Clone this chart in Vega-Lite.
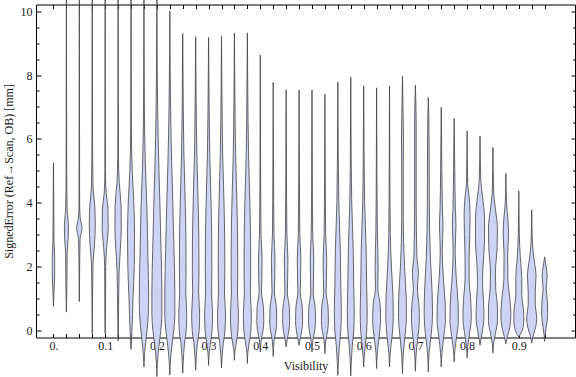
{
  "$schema": "https://vega.github.io/schema/vega-lite/v6.json",
  "width": 539,
  "height": 333,
  "autosize": "none",
  "padding": {"left": 36, "top": 4.5, "right": 1, "bottom": 39.5},
  "background": "white",
  "config": {
    "view": {"stroke": null},
    "axis": {
      "domainColor": "black",
      "domainWidth": 1,
      "tickColor": "black",
      "tickWidth": 1,
      "grid": false,
      "labelFont": "Liberation Serif",
      "labelFontSize": 12,
      "labelColor": "#1a1a1a",
      "titleFont": "Liberation Serif",
      "titleFontSize": 12,
      "titleFontWeight": "normal",
      "titleColor": "#1a1a1a"
    }
  },
  "data": {
    "values": [
      {"v":0,"y":5.25,"lo":0,"hi":0},{"v":0,"y":4,"lo":-0.0006,"hi":0.0006},{"v":0,"y":2.8,"lo":-0.001,"hi":0.001},{"v":0,"y":2.3,"lo":-0.0023,"hi":0.0023},{"v":0,"y":1.7,"lo":-0.0023,"hi":0.0023},{"v":0,"y":1.2,"lo":-0.001,"hi":0.001},{"v":0,"y":0.75,"lo":0,"hi":0},
      {"v":0.025,"y":10.5,"lo":0.025,"hi":0.025},{"v":0.025,"y":5,"lo":0.0244,"hi":0.0256},{"v":0.025,"y":3.8,"lo":0.0236,"hi":0.0264},{"v":0.025,"y":3.3,"lo":0.0211,"hi":0.0289},{"v":0.025,"y":2.9,"lo":0.0215,"hi":0.0285},{"v":0.025,"y":2.4,"lo":0.0235,"hi":0.0265},{"v":0.025,"y":1.5,"lo":0.024,"hi":0.026},{"v":0.025,"y":0.57,"lo":0.025,"hi":0.025},
      {"v":0.05,"y":10.5,"lo":0.05,"hi":0.05},{"v":0.05,"y":4,"lo":0.0494,"hi":0.0506},{"v":0.05,"y":3.55,"lo":0.0485,"hi":0.0515},{"v":0.05,"y":3.2,"lo":0.0448,"hi":0.0552},{"v":0.05,"y":2.85,"lo":0.0485,"hi":0.0515},{"v":0.05,"y":2.3,"lo":0.0492,"hi":0.0508},{"v":0.05,"y":0.9,"lo":0.05,"hi":0.05},
      {"v":0.075,"y":10.5,"lo":0.075,"hi":0.075},{"v":0.075,"y":6,"lo":0.0744,"hi":0.0756},{"v":0.075,"y":4.5,"lo":0.0735,"hi":0.0765},{"v":0.075,"y":3.9,"lo":0.0702,"hi":0.0798},{"v":0.075,"y":3.3,"lo":0.0692,"hi":0.0808},{"v":0.075,"y":2.7,"lo":0.0706,"hi":0.0794},{"v":0.075,"y":2.1,"lo":0.0735,"hi":0.0765},{"v":0.075,"y":1,"lo":0.0744,"hi":0.0756},{"v":0.075,"y":-0.1,"lo":0.075,"hi":0.075},
      {"v":0.1,"y":10.5,"lo":0.1,"hi":0.1},{"v":0.1,"y":5,"lo":0.0994,"hi":0.1006},{"v":0.1,"y":4.3,"lo":0.0981,"hi":0.1019},{"v":0.1,"y":3.8,"lo":0.0946,"hi":0.1054},{"v":0.1,"y":3.2,"lo":0.0942,"hi":0.1058},{"v":0.1,"y":2.6,"lo":0.0971,"hi":0.1029},{"v":0.1,"y":2,"lo":0.099,"hi":0.101},{"v":0.1,"y":0.5,"lo":0.0994,"hi":0.1006},{"v":0.1,"y":-0.1,"lo":0.1,"hi":0.1},
      {"v":0.125,"y":10.5,"lo":0.125,"hi":0.125},{"v":0.125,"y":5.5,"lo":0.1244,"hi":0.1256},{"v":0.125,"y":4.6,"lo":0.1227,"hi":0.1273},{"v":0.125,"y":3.9,"lo":0.1192,"hi":0.1308},{"v":0.125,"y":3.2,"lo":0.1188,"hi":0.1312},{"v":0.125,"y":2.5,"lo":0.1208,"hi":0.1292},{"v":0.125,"y":1.8,"lo":0.1231,"hi":0.1269},{"v":0.125,"y":0.8,"lo":0.124,"hi":0.126},{"v":0.125,"y":-0.33,"lo":0.125,"hi":0.125},
      {"v":0.15,"y":10.5,"lo":0.15,"hi":0.15},{"v":0.15,"y":6.5,"lo":0.1494,"hi":0.1506},{"v":0.15,"y":5,"lo":0.1477,"hi":0.1523},{"v":0.15,"y":4,"lo":0.1446,"hi":0.1554},{"v":0.15,"y":3,"lo":0.1432,"hi":0.1568},{"v":0.15,"y":2,"lo":0.1438,"hi":0.1562},{"v":0.15,"y":1,"lo":0.1461,"hi":0.1539},{"v":0.15,"y":0,"lo":0.1481,"hi":0.1519},{"v":0.15,"y":-0.6,"lo":0.15,"hi":0.15},
      {"v":0.175,"y":10.5,"lo":0.175,"hi":0.175},{"v":0.175,"y":7,"lo":0.1742,"hi":0.1758},{"v":0.175,"y":5.3,"lo":0.1725,"hi":0.1775},{"v":0.175,"y":3.8,"lo":0.1692,"hi":0.1808},{"v":0.175,"y":2.3,"lo":0.1673,"hi":0.1827},{"v":0.175,"y":1,"lo":0.1659,"hi":0.1841},{"v":0.175,"y":0.3,"lo":0.1673,"hi":0.1827},{"v":0.175,"y":-0.3,"lo":0.1711,"hi":0.1789},{"v":0.175,"y":-0.8,"lo":0.174,"hi":0.176},{"v":0.175,"y":-1.15,"lo":0.175,"hi":0.175},
      {"v":0.2,"y":10.5,"lo":0.2,"hi":0.2},{"v":0.2,"y":8,"lo":0.1992,"hi":0.2008},{"v":0.2,"y":6,"lo":0.1975,"hi":0.2025},{"v":0.2,"y":4,"lo":0.1942,"hi":0.2058},{"v":0.2,"y":2.5,"lo":0.1919,"hi":0.2081},{"v":0.2,"y":1.2,"lo":0.1903,"hi":0.2097},{"v":0.2,"y":0.5,"lo":0.1903,"hi":0.2097},{"v":0.2,"y":0,"lo":0.1923,"hi":0.2077},{"v":0.2,"y":-0.5,"lo":0.1961,"hi":0.2039},{"v":0.2,"y":-1,"lo":0.199,"hi":0.201},{"v":0.2,"y":-1.45,"lo":0.2,"hi":0.2},
      {"v":0.225,"y":10,"lo":0.225,"hi":0.225},{"v":0.225,"y":8,"lo":0.2242,"hi":0.2258},{"v":0.225,"y":6,"lo":0.2225,"hi":0.2275},{"v":0.225,"y":4,"lo":0.2192,"hi":0.2308},{"v":0.225,"y":2.5,"lo":0.2169,"hi":0.2331},{"v":0.225,"y":1.2,"lo":0.2153,"hi":0.2347},{"v":0.225,"y":0.5,"lo":0.2153,"hi":0.2347},{"v":0.225,"y":0,"lo":0.2173,"hi":0.2327},{"v":0.225,"y":-0.5,"lo":0.2211,"hi":0.2289},{"v":0.225,"y":-1,"lo":0.224,"hi":0.226},{"v":0.225,"y":-1.4,"lo":0.225,"hi":0.225},
      {"v":0.25,"y":9.3,"lo":0.25,"hi":0.25},{"v":0.25,"y":7.5,"lo":0.2492,"hi":0.2508},{"v":0.25,"y":5.5,"lo":0.2477,"hi":0.2523},{"v":0.25,"y":4,"lo":0.2452,"hi":0.2548},{"v":0.25,"y":2.8,"lo":0.2438,"hi":0.2562},{"v":0.25,"y":1.8,"lo":0.2436,"hi":0.2564},{"v":0.25,"y":1.2,"lo":0.2442,"hi":0.2558},{"v":0.25,"y":0.5,"lo":0.2423,"hi":0.2577},{"v":0.25,"y":0,"lo":0.2432,"hi":0.2568},{"v":0.25,"y":-0.4,"lo":0.2465,"hi":0.2535},{"v":0.25,"y":-0.99,"lo":0.249,"hi":0.251},{"v":0.25,"y":-1.34,"lo":0.25,"hi":0.25},
      {"v":0.275,"y":9.2,"lo":0.275,"hi":0.275},{"v":0.275,"y":7.5,"lo":0.2742,"hi":0.2758},{"v":0.275,"y":5.5,"lo":0.2727,"hi":0.2773},{"v":0.275,"y":4,"lo":0.2702,"hi":0.2798},{"v":0.275,"y":2.8,"lo":0.2688,"hi":0.2812},{"v":0.275,"y":1.8,"lo":0.2686,"hi":0.2814},{"v":0.275,"y":1.2,"lo":0.2692,"hi":0.2808},{"v":0.275,"y":0.5,"lo":0.2673,"hi":0.2827},{"v":0.275,"y":0,"lo":0.2682,"hi":0.2818},{"v":0.275,"y":-0.4,"lo":0.2715,"hi":0.2785},{"v":0.275,"y":-0.9,"lo":0.274,"hi":0.276},{"v":0.275,"y":-1.25,"lo":0.275,"hi":0.275},
      {"v":0.3,"y":9.18,"lo":0.3,"hi":0.3},{"v":0.3,"y":7.5,"lo":0.2992,"hi":0.3008},{"v":0.3,"y":5.5,"lo":0.2977,"hi":0.3023},{"v":0.3,"y":4,"lo":0.2952,"hi":0.3048},{"v":0.3,"y":2.8,"lo":0.2938,"hi":0.3062},{"v":0.3,"y":1.8,"lo":0.2936,"hi":0.3064},{"v":0.3,"y":1.2,"lo":0.2942,"hi":0.3058},{"v":0.3,"y":0.5,"lo":0.2923,"hi":0.3077},{"v":0.3,"y":0,"lo":0.2932,"hi":0.3068},{"v":0.3,"y":-0.4,"lo":0.2965,"hi":0.3035},{"v":0.3,"y":-0.75,"lo":0.299,"hi":0.301},{"v":0.3,"y":-1.1,"lo":0.3,"hi":0.3},
      {"v":0.325,"y":9.22,"lo":0.325,"hi":0.325},{"v":0.325,"y":7.5,"lo":0.3242,"hi":0.3258},{"v":0.325,"y":5.5,"lo":0.3227,"hi":0.3273},{"v":0.325,"y":4,"lo":0.3202,"hi":0.3298},{"v":0.325,"y":2.8,"lo":0.3188,"hi":0.3312},{"v":0.325,"y":1.8,"lo":0.3186,"hi":0.3314},{"v":0.325,"y":1.2,"lo":0.3192,"hi":0.3308},{"v":0.325,"y":0.5,"lo":0.3173,"hi":0.3327},{"v":0.325,"y":0,"lo":0.3182,"hi":0.3318},{"v":0.325,"y":-0.4,"lo":0.3215,"hi":0.3285},{"v":0.325,"y":-0.83,"lo":0.324,"hi":0.326},{"v":0.325,"y":-1.18,"lo":0.325,"hi":0.325},
      {"v":0.35,"y":9.32,"lo":0.35,"hi":0.35},{"v":0.35,"y":7.5,"lo":0.3492,"hi":0.3508},{"v":0.35,"y":5.5,"lo":0.3477,"hi":0.3523},{"v":0.35,"y":4,"lo":0.3452,"hi":0.3548},{"v":0.35,"y":2.8,"lo":0.3438,"hi":0.3562},{"v":0.35,"y":1.8,"lo":0.3436,"hi":0.3564},{"v":0.35,"y":1.2,"lo":0.3442,"hi":0.3558},{"v":0.35,"y":0.5,"lo":0.3423,"hi":0.3577},{"v":0.35,"y":0,"lo":0.3432,"hi":0.3568},{"v":0.35,"y":-0.4,"lo":0.3465,"hi":0.3535},{"v":0.35,"y":-0.65,"lo":0.349,"hi":0.351},{"v":0.35,"y":-0.94,"lo":0.35,"hi":0.35},
      {"v":0.375,"y":9.32,"lo":0.375,"hi":0.375},{"v":0.375,"y":7.5,"lo":0.3742,"hi":0.3758},{"v":0.375,"y":5.5,"lo":0.3727,"hi":0.3773},{"v":0.375,"y":4,"lo":0.3702,"hi":0.3798},{"v":0.375,"y":2.8,"lo":0.3688,"hi":0.3812},{"v":0.375,"y":1.8,"lo":0.3686,"hi":0.3814},{"v":0.375,"y":1.2,"lo":0.3692,"hi":0.3808},{"v":0.375,"y":0.5,"lo":0.3673,"hi":0.3827},{"v":0.375,"y":0,"lo":0.3682,"hi":0.3818},{"v":0.375,"y":-0.4,"lo":0.3715,"hi":0.3785},{"v":0.375,"y":-0.69,"lo":0.374,"hi":0.376},{"v":0.375,"y":-1.04,"lo":0.375,"hi":0.375},
      {"v":0.4,"y":8.63,"lo":0.4,"hi":0.4},{"v":0.4,"y":5,"lo":0.3994,"hi":0.4006},{"v":0.4,"y":3,"lo":0.3985,"hi":0.4015},{"v":0.4,"y":2.2,"lo":0.3965,"hi":0.4035},{"v":0.4,"y":1.6,"lo":0.3971,"hi":0.4029},{"v":0.4,"y":1.2,"lo":0.3977,"hi":0.4023},{"v":0.4,"y":0.7,"lo":0.3938,"hi":0.4062},{"v":0.4,"y":0.3,"lo":0.3932,"hi":0.4068},{"v":0.4,"y":0,"lo":0.3946,"hi":0.4054},{"v":0.4,"y":-0.3,"lo":0.3981,"hi":0.4019},{"v":0.4,"y":-0.68,"lo":0.4,"hi":0.4},
      {"v":0.425,"y":7.77,"lo":0.425,"hi":0.425},{"v":0.425,"y":5,"lo":0.4244,"hi":0.4256},{"v":0.425,"y":3,"lo":0.4235,"hi":0.4265},{"v":0.425,"y":2.2,"lo":0.4215,"hi":0.4285},{"v":0.425,"y":1.6,"lo":0.4221,"hi":0.4279},{"v":0.425,"y":1.2,"lo":0.4227,"hi":0.4273},{"v":0.425,"y":0.7,"lo":0.4188,"hi":0.4312},{"v":0.425,"y":0.3,"lo":0.4182,"hi":0.4318},{"v":0.425,"y":0,"lo":0.4196,"hi":0.4304},{"v":0.425,"y":-0.3,"lo":0.4231,"hi":0.4269},{"v":0.425,"y":-0.82,"lo":0.425,"hi":0.425},
      {"v":0.45,"y":7.53,"lo":0.45,"hi":0.45},{"v":0.45,"y":5,"lo":0.4494,"hi":0.4506},{"v":0.45,"y":3,"lo":0.4485,"hi":0.4515},{"v":0.45,"y":2.2,"lo":0.4465,"hi":0.4535},{"v":0.45,"y":1.6,"lo":0.4471,"hi":0.4529},{"v":0.45,"y":1.2,"lo":0.4477,"hi":0.4523},{"v":0.45,"y":0.7,"lo":0.4438,"hi":0.4562},{"v":0.45,"y":0.3,"lo":0.4432,"hi":0.4568},{"v":0.45,"y":0,"lo":0.4446,"hi":0.4554},{"v":0.45,"y":-0.3,"lo":0.4481,"hi":0.4519},{"v":0.45,"y":-0.52,"lo":0.45,"hi":0.45},
      {"v":0.475,"y":7.53,"lo":0.475,"hi":0.475},{"v":0.475,"y":5,"lo":0.4744,"hi":0.4756},{"v":0.475,"y":3,"lo":0.4735,"hi":0.4765},{"v":0.475,"y":2.2,"lo":0.4715,"hi":0.4785},{"v":0.475,"y":1.6,"lo":0.4721,"hi":0.4779},{"v":0.475,"y":1.2,"lo":0.4727,"hi":0.4773},{"v":0.475,"y":0.7,"lo":0.4688,"hi":0.4812},{"v":0.475,"y":0.3,"lo":0.4682,"hi":0.4818},{"v":0.475,"y":0,"lo":0.4696,"hi":0.4804},{"v":0.475,"y":-0.3,"lo":0.4731,"hi":0.4769},{"v":0.475,"y":-0.47,"lo":0.475,"hi":0.475},
      {"v":0.5,"y":7.53,"lo":0.5,"hi":0.5},{"v":0.5,"y":5,"lo":0.4994,"hi":0.5006},{"v":0.5,"y":3,"lo":0.4985,"hi":0.5015},{"v":0.5,"y":2.2,"lo":0.4965,"hi":0.5035},{"v":0.5,"y":1.6,"lo":0.4971,"hi":0.5029},{"v":0.5,"y":1.2,"lo":0.4977,"hi":0.5023},{"v":0.5,"y":0.7,"lo":0.4938,"hi":0.5062},{"v":0.5,"y":0.3,"lo":0.4932,"hi":0.5068},{"v":0.5,"y":0,"lo":0.4946,"hi":0.5054},{"v":0.5,"y":-0.3,"lo":0.4981,"hi":0.5019},{"v":0.5,"y":-0.68,"lo":0.5,"hi":0.5},
      {"v":0.525,"y":7.4,"lo":0.525,"hi":0.525},{"v":0.525,"y":5,"lo":0.5244,"hi":0.5256},{"v":0.525,"y":3,"lo":0.5235,"hi":0.5265},{"v":0.525,"y":2.2,"lo":0.5215,"hi":0.5285},{"v":0.525,"y":1.6,"lo":0.5221,"hi":0.5279},{"v":0.525,"y":1.2,"lo":0.5227,"hi":0.5273},{"v":0.525,"y":0.7,"lo":0.5188,"hi":0.5312},{"v":0.525,"y":0.3,"lo":0.5182,"hi":0.5318},{"v":0.525,"y":0,"lo":0.5196,"hi":0.5304},{"v":0.525,"y":-0.3,"lo":0.5231,"hi":0.5269},{"v":0.525,"y":-0.73,"lo":0.525,"hi":0.525},
      {"v":0.55,"y":7.78,"lo":0.55,"hi":0.55},{"v":0.55,"y":6,"lo":0.5494,"hi":0.5506},{"v":0.55,"y":4,"lo":0.5481,"hi":0.5519},{"v":0.55,"y":2.5,"lo":0.5452,"hi":0.5548},{"v":0.55,"y":1.3,"lo":0.5442,"hi":0.5558},{"v":0.55,"y":0.6,"lo":0.5432,"hi":0.5568},{"v":0.55,"y":0,"lo":0.5442,"hi":0.5558},{"v":0.55,"y":-0.5,"lo":0.5471,"hi":0.5529},{"v":0.55,"y":-1,"lo":0.549,"hi":0.551},{"v":0.55,"y":-1.41,"lo":0.55,"hi":0.55},
      {"v":0.575,"y":7.93,"lo":0.575,"hi":0.575},{"v":0.575,"y":6,"lo":0.5744,"hi":0.5756},{"v":0.575,"y":4,"lo":0.5731,"hi":0.5769},{"v":0.575,"y":2.5,"lo":0.5702,"hi":0.5798},{"v":0.575,"y":1.3,"lo":0.5692,"hi":0.5808},{"v":0.575,"y":0.6,"lo":0.5682,"hi":0.5818},{"v":0.575,"y":0,"lo":0.5692,"hi":0.5808},{"v":0.575,"y":-0.5,"lo":0.5721,"hi":0.5779},{"v":0.575,"y":-1,"lo":0.574,"hi":0.576},{"v":0.575,"y":-1.43,"lo":0.575,"hi":0.575},
      {"v":0.6,"y":7.66,"lo":0.6,"hi":0.6},{"v":0.6,"y":6,"lo":0.5994,"hi":0.6006},{"v":0.6,"y":4,"lo":0.5981,"hi":0.6019},{"v":0.6,"y":2.5,"lo":0.5952,"hi":0.6048},{"v":0.6,"y":1.3,"lo":0.5942,"hi":0.6058},{"v":0.6,"y":0.6,"lo":0.5932,"hi":0.6068},{"v":0.6,"y":0,"lo":0.5942,"hi":0.6058},{"v":0.6,"y":-0.5,"lo":0.5971,"hi":0.6029},{"v":0.6,"y":-0.85,"lo":0.599,"hi":0.601},{"v":0.6,"y":-1.15,"lo":0.6,"hi":0.6},
      {"v":0.625,"y":7.6,"lo":0.625,"hi":0.625},{"v":0.625,"y":5,"lo":0.6244,"hi":0.6256},{"v":0.625,"y":3,"lo":0.6235,"hi":0.6265},{"v":0.625,"y":2,"lo":0.6221,"hi":0.6279},{"v":0.625,"y":1.3,"lo":0.6227,"hi":0.6273},{"v":0.625,"y":0.8,"lo":0.6182,"hi":0.6318},{"v":0.625,"y":0.3,"lo":0.6173,"hi":0.6327},{"v":0.625,"y":-0.2,"lo":0.6202,"hi":0.6298},{"v":0.625,"y":-0.7,"lo":0.6236,"hi":0.6264},{"v":0.625,"y":-1.2,"lo":0.625,"hi":0.625},
      {"v":0.65,"y":7.66,"lo":0.65,"hi":0.65},{"v":0.65,"y":5,"lo":0.6494,"hi":0.6506},{"v":0.65,"y":3,"lo":0.6485,"hi":0.6515},{"v":0.65,"y":1.9,"lo":0.6461,"hi":0.6539},{"v":0.65,"y":1,"lo":0.6432,"hi":0.6568},{"v":0.65,"y":0.4,"lo":0.6427,"hi":0.6573},{"v":0.65,"y":-0.2,"lo":0.6452,"hi":0.6548},{"v":0.65,"y":-0.7,"lo":0.6486,"hi":0.6514},{"v":0.65,"y":-1.15,"lo":0.65,"hi":0.65},
      {"v":0.675,"y":7.97,"lo":0.675,"hi":0.675},{"v":0.675,"y":7,"lo":0.674,"hi":0.676},{"v":0.675,"y":6,"lo":0.6731,"hi":0.6769},{"v":0.675,"y":5,"lo":0.6735,"hi":0.6765},{"v":0.675,"y":3.5,"lo":0.6735,"hi":0.6765},{"v":0.675,"y":2,"lo":0.6711,"hi":0.6789},{"v":0.675,"y":1,"lo":0.6677,"hi":0.6823},{"v":0.675,"y":0.4,"lo":0.6673,"hi":0.6827},{"v":0.675,"y":-0.2,"lo":0.6702,"hi":0.6798},{"v":0.675,"y":-0.8,"lo":0.6736,"hi":0.6764},{"v":0.675,"y":-1.36,"lo":0.675,"hi":0.675},
      {"v":0.7,"y":7.68,"lo":0.7,"hi":0.7},{"v":0.7,"y":6.5,"lo":0.6985,"hi":0.7015},{"v":0.7,"y":4,"lo":0.6985,"hi":0.7015},{"v":0.7,"y":2.3,"lo":0.6971,"hi":0.7029},{"v":0.7,"y":1.8,"lo":0.6942,"hi":0.7058},{"v":0.7,"y":1.3,"lo":0.6961,"hi":0.7039},{"v":0.7,"y":0.8,"lo":0.6932,"hi":0.7068},{"v":0.7,"y":0.3,"lo":0.6923,"hi":0.7077},{"v":0.7,"y":-0.2,"lo":0.6952,"hi":0.7048},{"v":0.7,"y":-0.8,"lo":0.6988,"hi":0.7012},{"v":0.7,"y":-1.28,"lo":0.7,"hi":0.7},
      {"v":0.725,"y":7.3,"lo":0.725,"hi":0.725},{"v":0.725,"y":6,"lo":0.7235,"hi":0.7265},{"v":0.725,"y":4,"lo":0.7231,"hi":0.7269},{"v":0.725,"y":2.3,"lo":0.7211,"hi":0.7289},{"v":0.725,"y":1.2,"lo":0.7177,"hi":0.7323},{"v":0.725,"y":0.5,"lo":0.7169,"hi":0.7331},{"v":0.725,"y":-0.1,"lo":0.7192,"hi":0.7308},{"v":0.725,"y":-0.7,"lo":0.7235,"hi":0.7265},{"v":0.725,"y":-1.31,"lo":0.725,"hi":0.725},
      {"v":0.75,"y":6.99,"lo":0.75,"hi":0.75},{"v":0.75,"y":5,"lo":0.7488,"hi":0.7512},{"v":0.75,"y":3.8,"lo":0.7477,"hi":0.7523},{"v":0.75,"y":3.3,"lo":0.7465,"hi":0.7535},{"v":0.75,"y":2.5,"lo":0.7481,"hi":0.7519},{"v":0.75,"y":1.6,"lo":0.7458,"hi":0.7542},{"v":0.75,"y":0.8,"lo":0.7423,"hi":0.7577},{"v":0.75,"y":0.3,"lo":0.7419,"hi":0.7581},{"v":0.75,"y":-0.2,"lo":0.7452,"hi":0.7548},{"v":0.75,"y":-0.7,"lo":0.7486,"hi":0.7514},{"v":0.75,"y":-1.15,"lo":0.75,"hi":0.75},
      {"v":0.775,"y":6.64,"lo":0.775,"hi":0.775},{"v":0.775,"y":5,"lo":0.7738,"hi":0.7762},{"v":0.775,"y":3.8,"lo":0.7727,"hi":0.7773},{"v":0.775,"y":3.3,"lo":0.7715,"hi":0.7785},{"v":0.775,"y":2.5,"lo":0.7731,"hi":0.7769},{"v":0.775,"y":1.6,"lo":0.7708,"hi":0.7792},{"v":0.775,"y":0.8,"lo":0.7673,"hi":0.7827},{"v":0.775,"y":0.3,"lo":0.7669,"hi":0.7831},{"v":0.775,"y":-0.2,"lo":0.7702,"hi":0.7798},{"v":0.775,"y":-0.6,"lo":0.7736,"hi":0.7764},{"v":0.775,"y":-0.99,"lo":0.775,"hi":0.775},
      {"v":0.8,"y":6.25,"lo":0.8,"hi":0.8},{"v":0.8,"y":4.6,"lo":0.7988,"hi":0.8012},{"v":0.8,"y":4.2,"lo":0.7961,"hi":0.8039},{"v":0.8,"y":3.6,"lo":0.7942,"hi":0.8058},{"v":0.8,"y":3,"lo":0.7948,"hi":0.8052},{"v":0.8,"y":2.2,"lo":0.7961,"hi":0.8039},{"v":0.8,"y":1.6,"lo":0.7961,"hi":0.8039},{"v":0.8,"y":1,"lo":0.7932,"hi":0.8068},{"v":0.8,"y":0.4,"lo":0.7919,"hi":0.8081},{"v":0.8,"y":-0.1,"lo":0.7952,"hi":0.8048},{"v":0.8,"y":-0.5,"lo":0.7988,"hi":0.8012},{"v":0.8,"y":-0.86,"lo":0.8,"hi":0.8},
      {"v":0.825,"y":6.09,"lo":0.825,"hi":0.825},{"v":0.825,"y":4.7,"lo":0.8235,"hi":0.8265},{"v":0.825,"y":4.2,"lo":0.8202,"hi":0.8298},{"v":0.825,"y":3.5,"lo":0.8163,"hi":0.8337},{"v":0.825,"y":2.8,"lo":0.8163,"hi":0.8337},{"v":0.825,"y":2,"lo":0.8192,"hi":0.8308},{"v":0.825,"y":1.5,"lo":0.8202,"hi":0.8298},{"v":0.825,"y":0.9,"lo":0.8182,"hi":0.8318},{"v":0.825,"y":0.4,"lo":0.8173,"hi":0.8327},{"v":0.825,"y":0,"lo":0.8202,"hi":0.8298},{"v":0.825,"y":-0.3,"lo":0.8235,"hi":0.8265},{"v":0.825,"y":-0.47,"lo":0.825,"hi":0.825},
      {"v":0.85,"y":5.73,"lo":0.85,"hi":0.85},{"v":0.85,"y":4.3,"lo":0.8485,"hi":0.8515},{"v":0.85,"y":3.8,"lo":0.8452,"hi":0.8548},{"v":0.85,"y":3.2,"lo":0.8413,"hi":0.8587},{"v":0.85,"y":2.6,"lo":0.8419,"hi":0.8581},{"v":0.85,"y":1.8,"lo":0.8452,"hi":0.8548},{"v":0.85,"y":1.3,"lo":0.8446,"hi":0.8554},{"v":0.85,"y":0.7,"lo":0.8413,"hi":0.8587},{"v":0.85,"y":0.3,"lo":0.8413,"hi":0.8587},{"v":0.85,"y":-0.1,"lo":0.8452,"hi":0.8548},{"v":0.85,"y":-0.4,"lo":0.8485,"hi":0.8515},{"v":0.85,"y":-0.71,"lo":0.85,"hi":0.85},
      {"v":0.875,"y":4.92,"lo":0.875,"hi":0.875},{"v":0.875,"y":4,"lo":0.8738,"hi":0.8762},{"v":0.875,"y":3.5,"lo":0.8711,"hi":0.8789},{"v":0.875,"y":3,"lo":0.8698,"hi":0.8802},{"v":0.875,"y":2.4,"lo":0.8715,"hi":0.8785},{"v":0.875,"y":1.6,"lo":0.8711,"hi":0.8789},{"v":0.875,"y":1,"lo":0.8673,"hi":0.8827},{"v":0.875,"y":0.5,"lo":0.8653,"hi":0.8847},{"v":0.875,"y":0.1,"lo":0.8673,"hi":0.8827},{"v":0.875,"y":-0.2,"lo":0.8721,"hi":0.8779},{"v":0.875,"y":-0.42,"lo":0.875,"hi":0.875},
      {"v":0.9,"y":4.37,"lo":0.9,"hi":0.9},{"v":0.9,"y":3,"lo":0.899,"hi":0.901},{"v":0.9,"y":2.3,"lo":0.8971,"hi":0.9029},{"v":0.9,"y":1.6,"lo":0.8942,"hi":0.9058},{"v":0.9,"y":1.1,"lo":0.8942,"hi":0.9058},{"v":0.9,"y":0.7,"lo":0.8913,"hi":0.9087},{"v":0.9,"y":0.3,"lo":0.8903,"hi":0.9097},{"v":0.9,"y":0,"lo":0.8932,"hi":0.9068},{"v":0.9,"y":-0.21,"lo":0.9,"hi":0.9},
      {"v":0.925,"y":3.77,"lo":0.925,"hi":0.925},{"v":0.925,"y":2.7,"lo":0.9236,"hi":0.9264},{"v":0.925,"y":2.2,"lo":0.9202,"hi":0.9298},{"v":0.925,"y":1.7,"lo":0.9167,"hi":0.9333},{"v":0.925,"y":1.2,"lo":0.9182,"hi":0.9318},{"v":0.925,"y":0.8,"lo":0.9182,"hi":0.9318},{"v":0.925,"y":0.4,"lo":0.9153,"hi":0.9347},{"v":0.925,"y":0.1,"lo":0.9173,"hi":0.9327},{"v":0.925,"y":-0.2,"lo":0.9227,"hi":0.9273},{"v":0.925,"y":-0.4,"lo":0.925,"hi":0.925},
      {"v":0.95,"y":2.3,"lo":0.95,"hi":0.95},{"v":0.95,"y":2,"lo":0.9471,"hi":0.9529},{"v":0.95,"y":1.7,"lo":0.9452,"hi":0.9548},{"v":0.95,"y":1.3,"lo":0.9471,"hi":0.9529},{"v":0.95,"y":0.9,"lo":0.9446,"hi":0.9554},{"v":0.95,"y":0.5,"lo":0.9442,"hi":0.9558},{"v":0.95,"y":0.2,"lo":0.9461,"hi":0.9539},{"v":0.95,"y":-0.1,"lo":0.9486,"hi":0.9514},{"v":0.95,"y":-0.34,"lo":0.95,"hi":0.95}
    ]
  },
  "layer": [
    {
      "mark": {"type": "area", "orient": "horizontal", "interpolate": "monotone", "clip": false, "fill": "#cdd3f5", "fillOpacity": 1, "stroke": "#444444", "strokeOpacity": 0.8, "strokeWidth": 1},
      "encoding": {
        "detail": {"field": "v", "type": "nominal"},
        "y": {"field": "y", "type": "quantitative", "scale": {"domain": [-0.226, 10.21], "nice": false, "zero": false},
          "axis": {"orient": "left", "values": [0,0.5,1,1.5,2,2.5,3,3.5,4,4.5,5,5.5,6,6.5,7,7.5,8,8.5,9,9.5,10],
            "labelExpr": "datum.value % 2 == 0 ? format(datum.value, 'd') : ''",
            "tickSize": {"condition": {"test": "datum.value % 2 == 0", "value": -5}, "value": -3},
            "labelPadding": 9, "title": "SignedError (Ref\u2192Scan, OB) [mm]", "titlePadding": 5}},
        "x": {"field": "lo", "type": "quantitative", "scale": {"domain": [-0.0338, 1.0087], "nice": false, "zero": false},
          "axis": {"orient": "bottom", "values": [0,0.025,0.05,0.075,0.1,0.125,0.15,0.175,0.2,0.225,0.25,0.275,0.3,0.325,0.35,0.375,0.4,0.425,0.45,0.475,0.5,0.525,0.55,0.575,0.6,0.625,0.65,0.675,0.7,0.725,0.75,0.775,0.8,0.825,0.85,0.875,0.9,0.925,0.95],
            "labelExpr": "abs(datum.value*10 - round(datum.value*10)) < 0.001 ? (datum.value == 0 ? '0.' : format(datum.value, '.1f')) : ''",
            "tickSize": -4, "labelPadding": 7, "title": "Visibility", "titlePadding": 9}},
        "x2": {"field": "hi"}
      }
    },
    {
      "mark": {"type": "point", "opacity": 0},
      "encoding": {
        "y": {"field": "y", "type": "quantitative", "scale": {"domain": [-0.226, 10.21], "nice": false, "zero": false},
          "axis": {"orient": "right", "values": [0,0.5,1,1.5,2,2.5,3,3.5,4,4.5,5,5.5,6,6.5,7,7.5,8,8.5,9,9.5,10],
            "labels": false, "title": null,
            "tickSize": {"condition": {"test": "datum.value % 2 == 0", "value": -4}, "value": -2.5}}},
        "x": {"field": "lo", "type": "quantitative", "scale": {"domain": [-0.0338, 1.0087], "nice": false, "zero": false},
          "axis": {"orient": "top", "values": [0,0.025,0.05,0.075,0.1,0.125,0.15,0.175,0.2,0.225,0.25,0.275,0.3,0.325,0.35,0.375,0.4,0.425,0.45,0.475,0.5,0.525,0.55,0.575,0.6,0.625,0.65,0.675,0.7,0.725,0.75,0.775,0.8,0.825,0.85,0.875,0.9,0.925,0.95],
            "labels": false, "title": null, "tickSize": -4}}
      }
    }
  ],
  "resolve": {"scale": {"x": "independent", "y": "independent"}, "axis": {"x": "independent", "y": "independent"}}
}
